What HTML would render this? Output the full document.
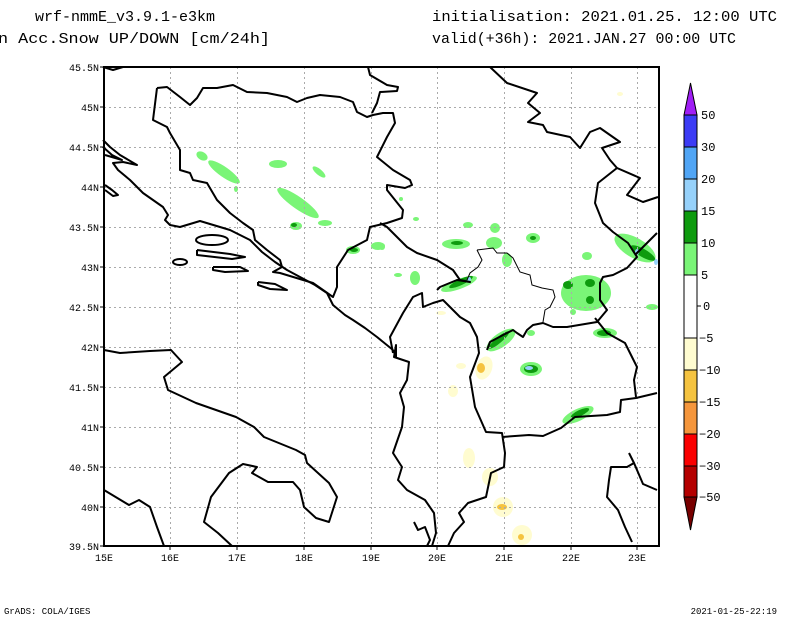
<!DOCTYPE html>
<html><head><meta charset="utf-8"><style>
body{margin:0;background:#fff}
svg{display:block}
text{font-family:"Liberation Mono",monospace}
</style></head><body>
<svg width="800" height="618" viewBox="0 0 800 618" xmlns="http://www.w3.org/2000/svg">
<rect width="800" height="618" fill="#fff"/>
<!-- header -->
<text x="35" y="21" font-size="15" textLength="180" lengthAdjust="spacingAndGlyphs">wrf-nmmE_v3.9.1-e3km</text>
<text x="-2" y="43" font-size="15" textLength="272" lengthAdjust="spacingAndGlyphs">n Acc.Snow UP/DOWN [cm/24h]</text>
<text x="432" y="21" font-size="15" textLength="345" lengthAdjust="spacingAndGlyphs">initialisation: 2021.01.25.  12:00 UTC</text>
<text x="432" y="43" font-size="15" textLength="304" lengthAdjust="spacingAndGlyphs">valid(+36h): 2021.JAN.27 00:00 UTC</text>

<!-- data blobs -->
<g fill="#7af577">
<ellipse cx="202" cy="156" rx="6" ry="4" transform="rotate(30 202 156)"/>
<ellipse cx="224" cy="172" rx="19" ry="5" transform="rotate(35 224 172)"/>
<ellipse cx="278" cy="164" rx="9" ry="4"/>
<ellipse cx="319" cy="172" rx="8" ry="3" transform="rotate(40 319 172)"/>
<ellipse cx="298" cy="203" rx="25" ry="6" transform="rotate(35 298 203)"/>
<ellipse cx="325" cy="223" rx="7" ry="3"/>
<ellipse cx="296" cy="226" rx="6" ry="4"/>
<ellipse cx="353" cy="250" rx="7" ry="4"/>
<ellipse cx="378" cy="246" rx="7" ry="4"/>
<ellipse cx="398" cy="275" rx="4" ry="2"/>
<ellipse cx="415" cy="278" rx="5" ry="7"/>
<ellipse cx="236" cy="189" rx="2" ry="3"/>
<ellipse cx="401" cy="199" rx="2" ry="2"/>
<ellipse cx="416" cy="219" rx="3" ry="2"/>
<ellipse cx="456" cy="244" rx="14" ry="5"/>
<ellipse cx="468" cy="225" rx="5" ry="3"/>
<ellipse cx="495" cy="228" rx="5" ry="5"/>
<ellipse cx="494" cy="243" rx="8" ry="6"/>
<ellipse cx="533" cy="238" rx="7" ry="5"/>
<ellipse cx="507" cy="260" rx="5" ry="7"/>
<ellipse cx="382" cy="247" rx="3" ry="3"/>
<ellipse cx="459" cy="284" rx="19" ry="5" transform="rotate(-20 459 284)"/>
<ellipse cx="587" cy="256" rx="5" ry="4"/>
<ellipse cx="586" cy="293" rx="25" ry="18"/>
<ellipse cx="635" cy="248" rx="23" ry="10" transform="rotate(30 635 248)"/>
<ellipse cx="652" cy="307" rx="6" ry="3"/>
<ellipse cx="605" cy="333" rx="12" ry="5"/>
<ellipse cx="531" cy="369" rx="11" ry="7"/>
<ellipse cx="578" cy="415" rx="17" ry="6" transform="rotate(-25 578 415)"/>
<ellipse cx="501" cy="340" rx="17" ry="7" transform="rotate(-35 501 340)"/>
<ellipse cx="531" cy="333" rx="4" ry="3"/>
<ellipse cx="573" cy="312" rx="3" ry="3"/>
</g>
<g fill="#0e9b0e">
<ellipse cx="294" cy="225" rx="3" ry="2"/>
<ellipse cx="354" cy="250" rx="4" ry="2"/>
<ellipse cx="457" cy="243" rx="6" ry="2"/>
<ellipse cx="533" cy="238" rx="3" ry="2"/>
<ellipse cx="568" cy="285" rx="5" ry="4"/>
<ellipse cx="590" cy="283" rx="5" ry="4"/>
<ellipse cx="590" cy="300" rx="4" ry="4"/>
<ellipse cx="643" cy="253" rx="14" ry="4" transform="rotate(30 643 253)"/>
<ellipse cx="604" cy="333" rx="7" ry="3"/>
<ellipse cx="531" cy="369" rx="7" ry="4"/>
<ellipse cx="580" cy="413" rx="10" ry="3" transform="rotate(-25 580 413)"/>
<ellipse cx="499" cy="340" rx="13" ry="3" transform="rotate(-40 499 340)"/>
<ellipse cx="461" cy="282" rx="13" ry="3" transform="rotate(-25 461 282)"/>
</g>
<g fill="#96d1fa">
<ellipse cx="529" cy="368" rx="4" ry="2"/>
<ellipse cx="637" cy="252" rx="2" ry="3"/>
<ellipse cx="656" cy="262" rx="2" ry="3"/>
<ellipse cx="469" cy="279" rx="2" ry="2"/>
</g>
<g fill="#fffcd0">
<ellipse cx="484" cy="368" rx="8" ry="12" transform="rotate(20 484 368)"/>
<ellipse cx="461" cy="366" rx="5" ry="3"/>
<ellipse cx="453" cy="391" rx="5" ry="6"/>
<ellipse cx="469" cy="458" rx="6" ry="10"/>
<ellipse cx="490" cy="477" rx="8" ry="9"/>
<ellipse cx="503" cy="507" rx="10" ry="10"/>
<ellipse cx="522" cy="535" rx="10" ry="10"/>
<ellipse cx="441" cy="313" rx="5" ry="2"/>
<ellipse cx="620" cy="94" rx="3" ry="2"/>
</g>
<g fill="#f5c340">
<ellipse cx="481" cy="368" rx="4" ry="5"/>
<ellipse cx="502" cy="507" rx="5" ry="3"/>
<ellipse cx="521" cy="537" rx="3" ry="3"/>
</g>

<!-- grid -->
<g stroke="#aaa" stroke-width="1" stroke-dasharray="2,3">
<line x1="170.5" y1="67" x2="170.5" y2="546"/><line x1="237.5" y1="67" x2="237.5" y2="546"/>
<line x1="304.5" y1="67" x2="304.5" y2="546"/><line x1="371.5" y1="67" x2="371.5" y2="546"/>
<line x1="437.5" y1="67" x2="437.5" y2="546"/><line x1="504.5" y1="67" x2="504.5" y2="546"/>
<line x1="571.5" y1="67" x2="571.5" y2="546"/><line x1="637.5" y1="67" x2="637.5" y2="546"/>
<line x1="104" y1="107.5" x2="659" y2="107.5"/><line x1="104" y1="147.5" x2="659" y2="147.5"/>
<line x1="104" y1="187.5" x2="659" y2="187.5"/><line x1="104" y1="227.5" x2="659" y2="227.5"/>
<line x1="104" y1="267.5" x2="659" y2="267.5"/><line x1="104" y1="307.5" x2="659" y2="307.5"/>
<line x1="104" y1="347.5" x2="659" y2="347.5"/><line x1="104" y1="387.5" x2="659" y2="387.5"/>
<line x1="104" y1="427.5" x2="659" y2="427.5"/><line x1="104" y1="467.5" x2="659" y2="467.5"/>
<line x1="104" y1="507.5" x2="659" y2="507.5"/>
</g>

<!-- map lines -->
<g fill="none" stroke="#000" stroke-width="2" stroke-linejoin="round">
<polyline points="157,88 153,120 167,127 170,133 180,150 180,170 190,173 193,180 207,183 217,200 230,213 243,223 253,230 255,240 267,250 280,260 282,267 273,272 280,273 313,283 333,297 337,287 337,267 348,250 367,240 370,227 387,223 402,218 403,210 395,200 387,190 387,185 405,188 412,185 410,180 393,170 377,157 387,137 395,123 393,113 383,113 373,115 367,117 357,112 353,102 340,97 320,95 307,98 297,102 287,97 267,93 247,92 233,85 217,88 203,88 197,98 190,105 180,97 167,87 157,88"/>
<polyline points="368,67 370,75 387,85 398,87 397,91 380,92 377,103 372,113"/>
<polyline points="103,67 113,70 123,67"/>
<polyline points="103,140 110,147 120,155 137,165 123,162 113,163 118,170 130,180 143,193 153,200 163,207 168,215 165,220 170,225 180,227 200,221 230,230 250,240 262,252 275,262 287,270 300,277 315,285 327,293 333,305 345,315 353,320 365,328 377,337 393,350"/>
<polyline points="103,147 112,155 122,160 105,155"/>
<ellipse cx="212" cy="240" rx="16" ry="5"/>
<polyline points="197,250 230,254 245,257 232,259 197,255 197,250"/>
<polyline points="213,267 240,267 248,271 225,272 213,270 213,267"/>
<polyline points="258,282 275,284 287,290 270,289 258,285 258,282"/>
<ellipse cx="180" cy="262" rx="7" ry="3"/>
<polyline points="105,185 112,190 118,195 113,196 105,190"/>
<polyline points="393,350 396,357 396,345 394,357 409,362 407,380 400,393 404,407 402,427 393,453 402,467 398,480 407,490 425,500 434,513 436,533 432,546"/>
<polyline points="393,353 390,337 403,313 413,297 422,293 423,307 433,303 443,300 450,307 460,317 470,323 477,337 479,353 470,377 475,407 486,432 502,433 505,453 504,467 491,473 486,497 468,503 459,513 464,522 454,533 448,546"/>
<polyline points="380,223 387,227 407,247 417,253 437,260 453,270 460,280 470,282 457,280 440,287 437,290"/>
<polyline points="487,350 490,342 503,335 513,330 517,333 523,337 527,330 533,325 543,323 553,327 567,327 597,322 607,310 600,300 600,283 603,277 613,275 627,268 637,257 628,243 613,232 603,223 595,203 598,183 617,168"/>
<polyline points="490,67 507,83 537,93 528,103 540,113 528,122 543,125 547,132 570,137 580,148 590,132 600,128 620,142 602,148 610,160 617,168 640,178 627,195 643,202 658,197"/>
<polyline points="502,437 529,435 543,436 561,428 575,417 607,415 620,412 621,400 636,398 657,393"/>
<polyline points="595,318 607,333 625,343 632,357 637,367 634,380 636,397"/>
<polyline points="636,254 657,233"/>
<polyline points="629,453 634,463 627,467 611,467 609,480 607,497 618,510 625,527 632,542"/>
<polyline points="634,463 643,484 657,490"/>
<polyline points="414,522 418,530 425,527 430,540 427,546"/>
<polyline points="104,350 120,353 150,351 171,350 182,362 164,377 168,390 196,403 236,417 254,427 264,437 296,450 305,455 307,463 329,483 337,497 329,522 316,518 304,507 300,490 293,482 268,482 252,473 257,467 243,464 229,473 211,497 204,522 218,533 232,546"/>
<polyline points="104,490 129,505 139,500 150,507 157,527 164,546"/>
</g>
<g fill="none" stroke="#000" stroke-width="1">
<polyline points="477,250 493,248 497,253 507,253 513,258 520,272 530,275 532,285 542,288 553,290 555,297 550,307 545,310 543,322"/>
<polyline points="477,250 482,260 478,267 470,273 467,280"/>
</g>

<rect x="104" y="67" width="555" height="479" fill="none" stroke="#000" stroke-width="2"/>
<g stroke="#000" stroke-width="1">
<line x1="100" y1="67" x2="104" y2="67"/><line x1="100" y1="107" x2="104" y2="107"/><line x1="100" y1="147" x2="104" y2="147"/><line x1="100" y1="187" x2="104" y2="187"/><line x1="100" y1="227" x2="104" y2="227"/><line x1="100" y1="267" x2="104" y2="267"/><line x1="100" y1="307" x2="104" y2="307"/><line x1="100" y1="347" x2="104" y2="347"/><line x1="100" y1="387" x2="104" y2="387"/><line x1="100" y1="427" x2="104" y2="427"/><line x1="100" y1="467" x2="104" y2="467"/><line x1="100" y1="507" x2="104" y2="507"/><line x1="100" y1="546" x2="104" y2="546"/>
<line x1="170" y1="546" x2="170" y2="550"/><line x1="237" y1="546" x2="237" y2="550"/><line x1="304" y1="546" x2="304" y2="550"/><line x1="371" y1="546" x2="371" y2="550"/><line x1="437" y1="546" x2="437" y2="550"/><line x1="504" y1="546" x2="504" y2="550"/><line x1="571" y1="546" x2="571" y2="550"/><line x1="637" y1="546" x2="637" y2="550"/>
</g>
<g font-size="10" text-anchor="end" font-family="Liberation Sans, sans-serif">
<text x="99" y="71">45.5N</text><text x="99" y="111">45N</text><text x="99" y="151">44.5N</text><text x="99" y="191">44N</text><text x="99" y="231">43.5N</text><text x="99" y="271">43N</text><text x="99" y="311">42.5N</text><text x="99" y="351">42N</text><text x="99" y="391">41.5N</text><text x="99" y="431">41N</text><text x="99" y="471">40.5N</text><text x="99" y="511">40N</text><text x="99" y="550">39.5N</text>
</g>
<g font-size="10" text-anchor="middle" font-family="Liberation Sans, sans-serif">
<text x="104" y="561">15E</text><text x="170" y="561">16E</text><text x="237" y="561">17E</text><text x="304" y="561">18E</text><text x="371" y="561">19E</text><text x="437" y="561">20E</text><text x="504" y="561">21E</text><text x="571" y="561">22E</text><text x="637" y="561">23E</text>
</g>

<!-- colorbar -->
<g stroke="#000" stroke-width="1">
<polygon points="684,115 697,115 690.5,83" fill="#a01ef5"/>
<rect x="684" y="115" width="13" height="32" fill="#3c3cf5"/>
<rect x="684" y="147" width="13" height="32" fill="#50a5f5"/>
<rect x="684" y="179" width="13" height="32" fill="#96d1fa"/>
<rect x="684" y="211" width="13" height="32" fill="#0e9b0e"/>
<rect x="684" y="243" width="13" height="32" fill="#7af577"/>
<rect x="684" y="275" width="13" height="63" fill="#fff"/>
<rect x="684" y="338" width="13" height="32" fill="#fffcd0"/>
<rect x="684" y="370" width="13" height="32" fill="#f5c340"/>
<rect x="684" y="402" width="13" height="32" fill="#f5963c"/>
<rect x="684" y="434" width="13" height="32" fill="#fa0000"/>
<rect x="684" y="466" width="13" height="31" fill="#b40000"/>
<polygon points="684,497 697,497 690.5,530" fill="#780000"/>
<line x1="697" y1="306" x2="701" y2="306"/>
</g>
<g font-size="12" font-family="Liberation Sans, sans-serif">
<text x="701" y="119">50</text><text x="701" y="151">30</text><text x="701" y="183">20</text><text x="701" y="215">15</text><text x="701" y="247">10</text><text x="701" y="279">5</text><text x="703" y="310">0</text><text x="699" y="342">−5</text><text x="699" y="374">−10</text><text x="699" y="406">−15</text><text x="699" y="438">−20</text><text x="699" y="470">−30</text><text x="699" y="501">−50</text>
</g>

<text x="4" y="614" font-size="9">GrADS: COLA/IGES</text>
<text x="777" y="614" font-size="9" text-anchor="end">2021-01-25-22:19</text>
</svg>
</body></html>
